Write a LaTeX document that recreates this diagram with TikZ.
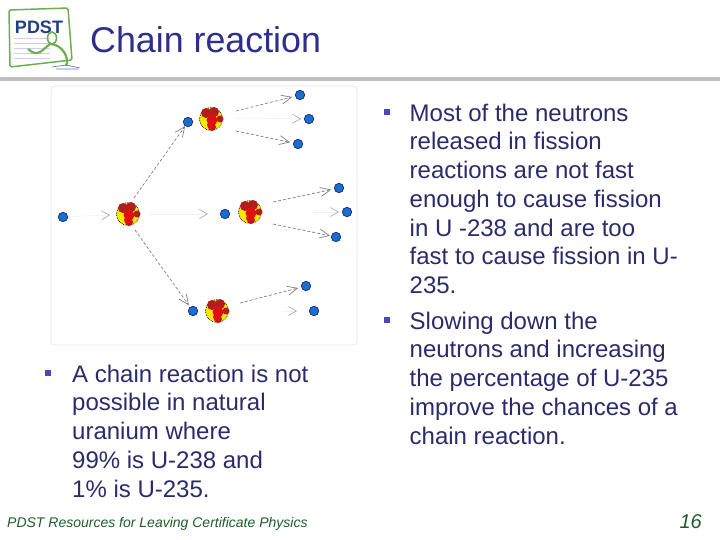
\documentclass[tikz,border=0pt]{standalone}
\usepackage{fontspec}
\setmainfont{Liberation Sans}
\usetikzlibrary{arrows.meta}
\definecolor{titleblue}{HTML}{2E2E8C}
\definecolor{textblue}{HTML}{2B2B6B}
\definecolor{neutronblue}{HTML}{1A6FC9}
\definecolor{logoblue}{HTML}{1F3F7F}
\definecolor{logogreen}{HTML}{6DAF4F}
\definecolor{bulletblue}{HTML}{4A4AB4}
\definecolor{footgreen}{HTML}{1E5C2A}
\definecolor{lumpdark}{HTML}{B21E1E}
\definecolor{lumpred}{HTML}{E01010}
\tikzstyle{neutron} = [circle, draw=blue!50!black, fill=neutronblue, line width=0.5pt, inner sep=0pt, minimum size=9.5]
\tikzstyle{line} = [draw, gray, densely dashed, line width=0.7pt, -{Straight Barb[length=10pt, width=9pt]}]
\tikzstyle{faint} = [draw, gray!12, line width=0.6pt, -{Straight Barb[color=gray!70, length=8pt, width=9pt]}]
\tikzstyle{bodytext} = [align=left, inner sep=0pt, anchor=north west, text=textblue, font=\fontsize{24}{28.75}\selectfont]
\tikzstyle{bullet} = [rectangle, fill=bulletblue, inner sep=0pt, minimum size=6.5]
\newcommand{\nucleus}[2]{
    \begin{scope}[shift={(#1)}]
    \draw[fill=yellow!90!orange, densely dotted, line width=0.7pt] (0,0) circle (11.5);
    \fill[lumpdark] (-5,-6) circle (5) (3,-7) circle (5) (9,0) circle (3.5) (1,8) circle (4);
    \fill[lumpred] (1,1) circle (5.5) (0,6) circle (4);
    \coordinate (#2) at (0,0);
    \end{scope}
}
\begin{document}
\begin{tikzpicture}[x=1pt,y=-1pt]
    \useasboundingbox (0,0) rectangle (720,540);
    % logo
    \draw[logogreen, line width=1.5pt, rounded corners=1.5pt] (9,10) -- (68,8) -- (72,60) -- (10,67) -- cycle;
    \foreach \ly in {38,43,48,53,58}
        \draw[blue!20, line width=0.6pt] (14,\ly) -- (50,\ly);
    \node[inner sep=0pt, text=logoblue, font=\bfseries\fontsize{18}{18}\selectfont] (logotext) at (39,27) {PDST};
    \draw[logogreen, line width=1.6pt] (52,38) circle (4.5 and 6);
    \draw[logogreen, line width=2.2pt] (28,49) .. controls (38,58) and (42,50) .. (50,44) .. controls (62,44) and (70,58) .. (66,66);
    \draw[logoblue!70, line width=0.7pt] (52,67) -- (66,65) -- (80,68) (56,69) -- (78,69);
    % title
    \node[inner sep=0pt, anchor=west, text=titleblue, font=\fontsize{35.8}{35.8}\selectfont] (title) at (90,40) {Chain reaction};
    \fill[gray!50] (0,77) rectangle (720,81);
    % picture frame
    \draw[gray!15, line width=1pt, rounded corners=4pt] (51,86) rectangle (357,345);
    \node[neutron] (n0) at (63,217) {};
    \nucleus{128,214}{c1}
    \node[neutron] (n1) at (188,122) {};
    \nucleus{211,119}{c2}
    \node[neutron] (n2) at (225,214) {};
    \nucleus{250,212}{c3}
    \node[neutron] (n3) at (193,311) {};
    \nucleus{217,311}{c4}
    \node[neutron] (a1) at (300,95) {};
    \node[neutron] (a2) at (309,119) {};
    \node[neutron] (a3) at (298,144) {};
    \node[neutron] (b1) at (339,188) {};
    \node[neutron] (b2) at (347,212) {};
    \node[neutron] (b3) at (336,237) {};
    \node[neutron] (d1) at (306,286) {};
    \node[neutron] (d2) at (314,311) {};
    \path [faint] (n0) -- (110,215);
    \path [line] (c1) ++(6,-16) -- (n1);
    \path [line, shorten >=2pt] (c1) ++(7,16) -- (n3);
    \path [faint, shorten >=12pt] (c1) ++(20,0) -- (n2);
    \path [line, shorten >=3pt] (c2) ++(25,-8) -- (a1);
    \path [faint, shorten >=3pt] (c2) ++(25,-1) -- (a2);
    \path [line, shorten >=3pt] (c2) ++(25,12) -- (a3);
    \path [line, shorten >=3pt] (c3) ++(23,-10) -- (b1);
    \path [faint, shorten >=3pt] (c3) ++(63,0) -- (b2);
    \path [line, shorten >=1pt] (c3) ++(23,12) -- (b3);
    \path [line, shorten >=3pt] (c4) ++(23,-8) -- (d1);
    \path [faint, shorten >=12pt] (c4) ++(68,0) -- (d2);
    % text
    \node[bullet] (b-a) at (48,373) {};
    \node[bodytext] (left) at (72,364.5) {A chain reaction is not\\possible in natural\\uranium where\\99\% is U-238 and\\1\% is U-235.};
    \node[bullet] (b-b) at (387,112) {};
    \node[bodytext] (right1) at (409.5,103.5) {Most of the neutrons\\released in fission\\reactions are not fast\\enough to cause fission\\in U -238 and are too\\fast to cause fission in U-\\235.};
    \node[bullet] (b-c) at (387,320) {};
    \node[bodytext] (right2) at (409.5,311.5) {Slowing down the\\neutrons and increasing\\the percentage of U-235\\improve the chances of a\\chain reaction.};
    % footer
    \node[inner sep=0pt, anchor=west, text=footgreen, font=\itshape\fontsize{14}{14}\selectfont] (footer) at (7,524) {PDST Resources for Leaving Certificate Physics};
    \node[inner sep=0pt, anchor=east, text=footgreen, font=\itshape\fontsize{20}{20}\selectfont] (pagenum) at (702,522) {16};
\end{tikzpicture}
\end{document}
